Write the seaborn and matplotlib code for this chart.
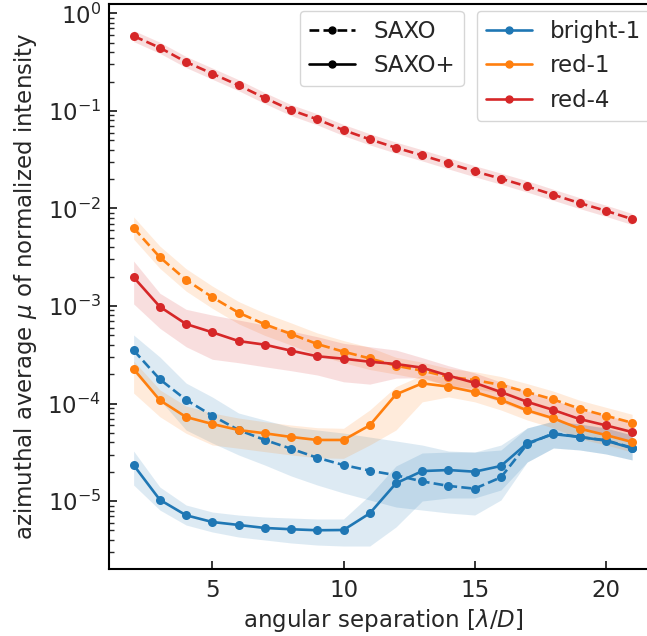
import numpy as np
import pandas as pd
import matplotlib
matplotlib.use("Agg")
import matplotlib.pyplot as plt
import seaborn as sns
from matplotlib.lines import Line2D

# ---------------- data ----------------
separation = [2, 3, 4, 5, 6, 7, 8, 9, 10, 11, 12, 13, 14, 15, 16, 17, 18, 19, 20, 21]
stars = ["bright-1", "red-1", "red-4"]
modes = ["SAXO", "SAXO+"]

bright1_saxo = [3.51e-4, 1.77e-4, 1.09e-4, 7.50e-5, 5.35e-5, 4.23e-5, 3.44e-5, 2.78e-5, 2.34e-5, 2.05e-5,
                1.84e-5, 1.59e-5, 1.43e-5, 1.34e-5, 1.75e-5, 3.82e-5, 4.95e-5, 4.54e-5, 4.20e-5, 3.52e-5]
bright1_saxo_lo = [2.10e-4, 1.086e-4, 5.35e-5, 3.94e-5, 2.97e-5, 2.34e-5, 1.81e-5, 1.46e-5, 1.21e-5, 1.025e-5,
                   8.69e-6, 8.09e-6, 7.54e-6, 7.19e-6, 1.025e-5, 2.51e-5, 3.50e-5, 3.34e-5, 3.04e-5, 2.64e-5]
bright1_saxo_hi = [5.04e-4, 3.00e-4, 1.62e-4, 1.166e-4, 7.99e-5, 6.77e-5, 5.74e-5, 5.35e-5, 4.98e-5, 4.53e-5,
                   4.13e-5, 3.75e-5, 3.26e-5, 3.18e-5, 3.75e-5, 5.61e-5, 6.61e-5, 6.16e-5, 5.61e-5, 4.75e-5]

bright1_plus = [2.34e-5, 1.03e-5, 7.15e-6, 6.10e-6, 5.69e-6, 5.30e-6, 5.14e-6, 5.02e-6, 5.05e-6, 7.48e-6,
                1.52e-5, 2.03e-5, 2.08e-5, 2.00e-5, 2.29e-5, 3.91e-5, 4.86e-5, 4.54e-5, 4.16e-5, 3.48e-5]
bright1_plus_lo = [1.46e-5, 8.09e-6, 5.68e-6, 4.82e-6, 4.28e-6, 3.99e-6, 3.72e-6, 3.54e-6, 3.46e-6, 3.46e-6,
                   5.42e-6, 1.001e-5, 1.075e-5, 1.075e-5, 1.298e-5, 2.51e-5, 3.50e-5, 3.34e-5, 3.04e-5, 2.64e-5]
bright1_plus_hi = [3.26e-5, 1.393e-5, 9.11e-6, 7.72e-6, 7.19e-6, 6.86e-6, 6.70e-6, 6.55e-6, 6.55e-6, 1.153e-5,
                   2.29e-5, 3.11e-5, 3.18e-5, 3.18e-5, 3.34e-5, 5.61e-5, 6.61e-5, 6.16e-5, 5.61e-5, 4.75e-5]

red1_saxo = [6.30e-3, 3.16e-3, 1.85e-3, 1.23e-3, 8.53e-4, 6.49e-4, 5.16e-4, 4.07e-4, 3.40e-4, 2.90e-4,
             2.44e-4, 2.17e-4, 1.88e-4, 1.74e-4, 1.55e-4, 1.31e-4, 1.10e-4, 8.85e-5, 7.50e-5, 6.35e-5]
red1_saxo_lo = [4.85e-3, 2.43e-3, 1.42e-3, 9.46e-4, 6.56e-4, 4.99e-4, 3.97e-4, 3.13e-4, 2.62e-4, 2.23e-4,
                2.00e-4, 1.78e-4, 1.54e-4, 1.43e-4, 1.27e-4, 1.07e-4, 9.0e-5, 7.25e-5, 6.15e-5, 5.2e-5]
red1_saxo_hi = [8.19e-3, 4.11e-3, 2.41e-3, 1.60e-3, 1.11e-3, 8.44e-4, 6.71e-4, 5.29e-4, 4.42e-4, 3.77e-4,
                2.98e-4, 2.65e-4, 2.29e-4, 2.12e-4, 1.89e-4, 1.60e-4, 1.34e-4, 1.08e-4, 9.15e-5, 7.75e-5]

red1_plus = [2.26e-4, 1.08e-4, 7.27e-5, 6.17e-5, 5.35e-5, 4.95e-5, 4.54e-5, 4.23e-5, 4.23e-5, 5.98e-5,
             1.24e-4, 1.61e-4, 1.49e-4, 1.31e-4, 1.09e-4, 8.51e-5, 7.05e-5, 5.52e-5, 4.75e-5, 4.03e-5]
red1_plus_lo = [1.28e-4, 7.32e-5, 4.95e-5, 3.76e-5, 3.48e-5, 3.21e-5, 2.97e-5, 2.78e-5, 2.74e-5, 3.76e-5,
                5.35e-5, 1.04e-4, 1.17e-4, 1.04e-4, 8.58e-5, 6.78e-5, 5.61e-5, 4.36e-5, 3.76e-5, 3.18e-5]
red1_plus_hi = [2.73e-4, 1.38e-4, 9.42e-5, 7.99e-5, 7.10e-5, 6.50e-5, 6.02e-5, 5.65e-5, 5.57e-5, 8.58e-5,
                1.49e-4, 1.96e-4, 1.88e-4, 1.66e-4, 1.38e-4, 1.09e-4, 9.0e-5, 6.98e-5, 6.02e-5, 5.10e-5]

red4_saxo = [0.585, 0.444, 0.317, 0.241, 0.183, 0.1355, 0.102, 0.0819, 0.0636, 0.0511,
             0.0419, 0.0350, 0.0290, 0.0240, 0.0202, 0.0168, 0.0138, 0.01135, 0.00946, 0.00778]
red4_saxo_lo = [0.513, 0.389, 0.278, 0.211, 0.161, 0.119, 0.0895, 0.0718, 0.0558, 0.0448,
                0.0368, 0.0307, 0.0254, 0.0211, 0.0177, 0.0147, 0.0121, 0.00996, 0.00830, 0.00682]
red4_saxo_hi = [0.667, 0.506, 0.361, 0.275, 0.209, 0.154, 0.116, 0.0934, 0.0725, 0.0583,
                0.0478, 0.0399, 0.0331, 0.0274, 0.0230, 0.0192, 0.0157, 0.0129, 0.0108, 0.00887]

red4_plus = [1.97e-3, 9.82e-4, 6.53e-4, 5.37e-4, 4.37e-4, 4.01e-4, 3.48e-4, 3.05e-4, 2.88e-4, 2.68e-4,
             2.54e-4, 2.33e-4, 1.93e-4, 1.63e-4, 1.31e-4, 1.04e-4, 8.58e-5, 6.93e-5, 5.97e-5, 5.10e-5]
red4_plus_lo = [1.05e-3, 5.90e-4, 3.82e-4, 2.84e-4, 2.62e-4, 2.38e-4, 2.17e-4, 1.96e-4, 1.67e-4, 1.58e-4,
                1.82e-4, 1.84e-4, 1.52e-4, 1.29e-4, 1.03e-4, 8.2e-5, 6.78e-5, 5.47e-5, 4.72e-5, 4.03e-5]
red4_plus_hi = [2.89e-3, 1.35e-3, 9.24e-4, 8.07e-4, 7.18e-4, 6.38e-4, 5.54e-4, 4.84e-4, 4.14e-4, 3.82e-4,
                3.53e-4, 2.95e-4, 2.44e-4, 2.06e-4, 1.66e-4, 1.32e-4, 1.09e-4, 8.77e-5, 7.56e-5, 6.46e-5]

colors = {"bright-1": "#1f77b4", "red-1": "#ff7f0e", "red-4": "#d62728"}

series = [
    ("bright-1", "SAXO", bright1_saxo, bright1_saxo_lo, bright1_saxo_hi),
    ("bright-1", "SAXO+", bright1_plus, bright1_plus_lo, bright1_plus_hi),
    ("red-1", "SAXO", red1_saxo, red1_saxo_lo, red1_saxo_hi),
    ("red-1", "SAXO+", red1_plus, red1_plus_lo, red1_plus_hi),
    ("red-4", "SAXO", red4_saxo, red4_saxo_lo, red4_saxo_hi),
    ("red-4", "SAXO+", red4_plus, red4_plus_lo, red4_plus_hi),
]

rows = []
for star, mode, vals, lo, hi in series:
    for x, v, l, h in zip(separation, vals, lo, hi):
        rows.append({"sep": x, "mu": v, "lo": l, "hi": h, "star": star, "mode": mode})
df = pd.DataFrame(rows)

# ---------------- plot ----------------
FS = 16.5
sns.set_style("ticks")
plt.rcParams["font.family"] = ["DejaVu Sans"]
plt.rcParams["font.size"] = FS
plt.rcParams["mathtext.fontset"] = "dejavusans"

fig = plt.figure(figsize=(6.47, 6.36), dpi=100)
ax = fig.add_axes([0.1692, 0.1053, 0.8463, 0.8879])

for star, mode, vals, lo, hi in series:
    ax.fill_between(separation, lo, hi, color=colors[star], alpha=0.15, linewidth=0)

sns.lineplot(data=df, x="sep", y="mu", hue="star", style="mode",
             palette=colors, hue_order=stars, style_order=modes,
             dashes={"SAXO": (3.7, 1.6), "SAXO+": ""},
             markers={"SAXO": "o", "SAXO+": "o"},
             markersize=6.5, markeredgewidth=0, linewidth=1.9,
             legend=False, ax=ax, errorbar=None)

ax.set_yscale("log")
ax.set_xlim(1.08, 21.95)
ax.set_ylim(2.01e-6, 1.237)
ax.set_xticks([5, 10, 15, 20])
ax.set_xlabel(r"angular separation [$\lambda/D$]", fontsize=FS, labelpad=4)
ax.set_ylabel(r"azimuthal average $\mu$ of normalized intensity", fontsize=FS, labelpad=6)
ax.tick_params(axis="both", which="both", direction="in", labelsize=FS)
ax.tick_params(axis="both", which="major", length=6, width=1.3)
ax.tick_params(axis="y", which="minor", length=3.5, width=1.0)
ax.tick_params(axis="x", which="major", pad=7)
ax.tick_params(axis="y", which="major", pad=6)
for side in ["left", "bottom", "top"]:
    ax.spines[side].set_linewidth(1.5)
    ax.spines[side].set_color("black")
ax.spines["right"].set_visible(False)

# legends
style_handles = [
    Line2D([], [], color="black", linestyle="--", marker="o", markersize=5, linewidth=1.9),
    Line2D([], [], color="black", linestyle="-", marker="o", markersize=5, linewidth=1.9),
]
leg1 = ax.legend(style_handles, modes, loc="upper right", bbox_to_anchor=(0.6475, 0.9887),
                 borderaxespad=0, fontsize=FS, handlelength=2.0, framealpha=0.8,
                 edgecolor="0.8", fancybox=True)
ax.add_artist(leg1)

color_handles = [
    Line2D([], [], color=colors[s], linestyle="-", marker="o", markersize=5, linewidth=1.9)
    for s in stars
]
ax.legend(color_handles, stars, loc="upper right", bbox_to_anchor=(0.988, 0.9887),
          borderaxespad=0, fontsize=FS, handlelength=2.0, framealpha=0.8,
          edgecolor="0.8", fancybox=True)

fig.savefig("out.png", dpi=100)
